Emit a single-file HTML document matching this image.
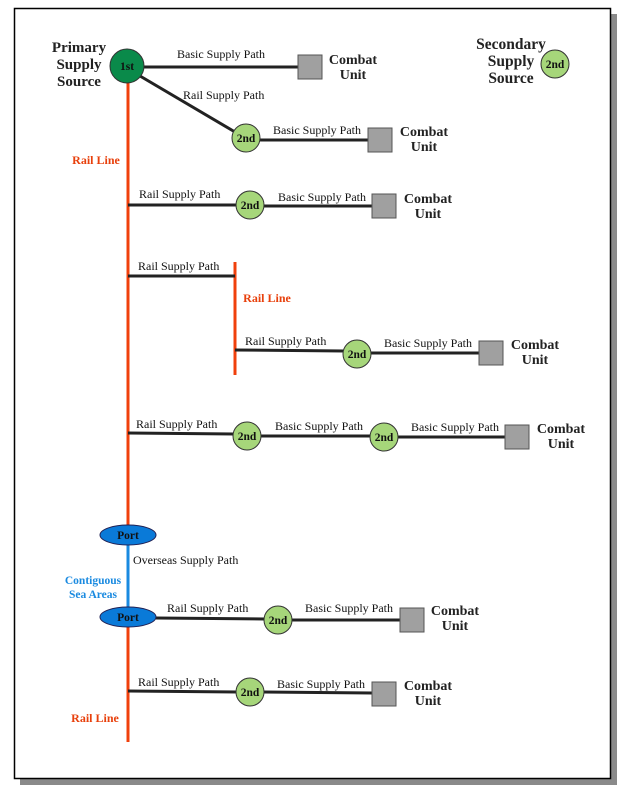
<!DOCTYPE html>
<html><head><meta charset="utf-8"><style>
html,body{margin:0;padding:0;background:#fff;}
svg{display:block;}
.lbl{font-family:"Liberation Serif",serif;font-size:12px;fill:#111;}
.b{font-family:"Liberation Serif",serif;font-weight:bold;font-size:14px;fill:#222;}
.bs{font-family:"Liberation Serif",serif;font-weight:bold;font-size:15px;fill:#222;}
.bs2{font-family:"Liberation Serif",serif;font-weight:bold;font-size:15.5px;fill:#222;}
.n{font-family:"Liberation Serif",serif;font-weight:bold;font-size:11.5px;fill:#111;}
.red{font-family:"Liberation Serif",serif;font-weight:bold;font-size:12px;fill:#e8400c;}
.blue{font-family:"Liberation Serif",serif;font-weight:bold;font-size:11.5px;fill:#1a8ae0;}
</style></head><body>
<svg width="637" height="785" viewBox="0 0 637 785" xmlns="http://www.w3.org/2000/svg">
<rect x="20" y="14" width="597" height="771" fill="#8a8a8a"/>
<rect x="14.5" y="8.5" width="596" height="770" fill="#fff" stroke="#000" stroke-width="1.5"/>

<line x1="128" y1="83" x2="128" y2="527" stroke="#f0400c" stroke-width="3"/>
<line x1="128" y1="545" x2="128" y2="608" stroke="#1a8ae0" stroke-width="3"/>
<line x1="128" y1="627" x2="128" y2="742" stroke="#f0400c" stroke-width="3"/>
<line x1="235" y1="262" x2="235" y2="375" stroke="#f0400c" stroke-width="3"/>

<g stroke="#222" stroke-width="3">
<line x1="144" y1="67" x2="298" y2="67"/>
<line x1="140" y1="76" x2="235" y2="132"/>
<line x1="258" y1="140" x2="368" y2="140"/>
<line x1="128" y1="205" x2="237" y2="205"/>
<line x1="263" y1="206" x2="372" y2="206"/>
<line x1="128" y1="276" x2="235" y2="276"/>
<line x1="235" y1="350" x2="344" y2="351"/>
<line x1="370" y1="353" x2="479" y2="353"/>
<line x1="128" y1="433" x2="234" y2="434"/>
<line x1="260" y1="436" x2="371" y2="436"/>
<line x1="397" y1="437" x2="505" y2="437"/>
<line x1="156" y1="618" x2="265" y2="619"/>
<line x1="291" y1="620" x2="400" y2="620"/>
<line x1="128" y1="691" x2="237" y2="692"/>
<line x1="263" y1="692" x2="372" y2="693"/>
</g>

<circle cx="127" cy="66" r="17" fill="#0a8a4a" stroke="#333" stroke-width="1"/>
<text x="127" y="70" class="n" text-anchor="middle">1st</text>

<g fill="#a6d67a" stroke="#333" stroke-width="1">
<circle cx="246" cy="138" r="14"/>
<circle cx="250" cy="205" r="14"/>
<circle cx="357" cy="354" r="14"/>
<circle cx="247" cy="436" r="14"/>
<circle cx="384" cy="437" r="14"/>
<circle cx="278" cy="620" r="14"/>
<circle cx="250" cy="692" r="14"/>
<circle cx="555" cy="64" r="14"/>
</g>
<g class="n" text-anchor="middle">
<text x="246" y="142">2nd</text>
<text x="250" y="209">2nd</text>
<text x="357" y="358">2nd</text>
<text x="247" y="440">2nd</text>
<text x="384" y="441">2nd</text>
<text x="278" y="624">2nd</text>
<text x="250" y="696">2nd</text>
<text x="555" y="68">2nd</text>
</g>

<ellipse cx="128" cy="535" rx="28" ry="10" fill="#0a7ad8" stroke="#225" stroke-width="1"/>
<ellipse cx="128" cy="617" rx="28" ry="10" fill="#0a7ad8" stroke="#225" stroke-width="1"/>
<text x="128" y="539" class="n" text-anchor="middle">Port</text>
<text x="128" y="621" class="n" text-anchor="middle">Port</text>

<g fill="#a0a0a0" stroke="#555" stroke-width="1">
<rect x="298" y="55" width="24" height="24"/>
<rect x="368" y="128" width="24" height="24"/>
<rect x="372" y="194" width="24" height="24"/>
<rect x="479" y="341" width="24" height="24"/>
<rect x="505" y="425" width="24" height="24"/>
<rect x="400" y="608" width="24" height="24"/>
<rect x="372" y="682" width="24" height="24"/>
</g>
<g class="b" text-anchor="middle">
<text x="353" y="64">Combat</text><text x="353" y="79">Unit</text>
<text x="424" y="136">Combat</text><text x="424" y="151">Unit</text>
<text x="428" y="203">Combat</text><text x="428" y="218">Unit</text>
<text x="535" y="349">Combat</text><text x="535" y="364">Unit</text>
<text x="561" y="433">Combat</text><text x="561" y="448">Unit</text>
<text x="455" y="615">Combat</text><text x="455" y="630">Unit</text>
<text x="428" y="690">Combat</text><text x="428" y="705">Unit</text>
</g>
<g class="bs" text-anchor="middle">
<text x="79" y="52">Primary</text><text x="79" y="69">Supply</text><text x="79" y="86">Source</text>
</g>
<g class="bs2" text-anchor="middle">
<text x="511" y="49">Secondary</text><text x="511" y="66">Supply</text><text x="511" y="83">Source</text>
</g>

<g class="lbl">
<text x="177" y="58">Basic Supply Path</text>
<text x="183" y="99">Rail Supply Path</text>
<text x="273" y="134">Basic Supply Path</text>
<text x="139" y="198">Rail Supply Path</text>
<text x="278" y="201">Basic Supply Path</text>
<text x="138" y="270">Rail Supply Path</text>
<text x="245" y="345">Rail Supply Path</text>
<text x="384" y="347">Basic Supply Path</text>
<text x="136" y="428">Rail Supply Path</text>
<text x="275" y="430">Basic Supply Path</text>
<text x="411" y="431">Basic Supply Path</text>
<text x="133" y="564">Overseas Supply Path</text>
<text x="167" y="612">Rail Supply Path</text>
<text x="305" y="612">Basic Supply Path</text>
<text x="138" y="686">Rail Supply Path</text>
<text x="277" y="688">Basic Supply Path</text>
</g>

<text x="96" y="164" class="red" text-anchor="middle">Rail Line</text>
<text x="267" y="302" class="red" text-anchor="middle">Rail Line</text>
<text x="95" y="722" class="red" text-anchor="middle">Rail Line</text>
<text x="93" y="584" class="blue" text-anchor="middle">Contiguous</text>
<text x="93" y="598" class="blue" text-anchor="middle">Sea Areas</text>
</svg>
</body></html>
